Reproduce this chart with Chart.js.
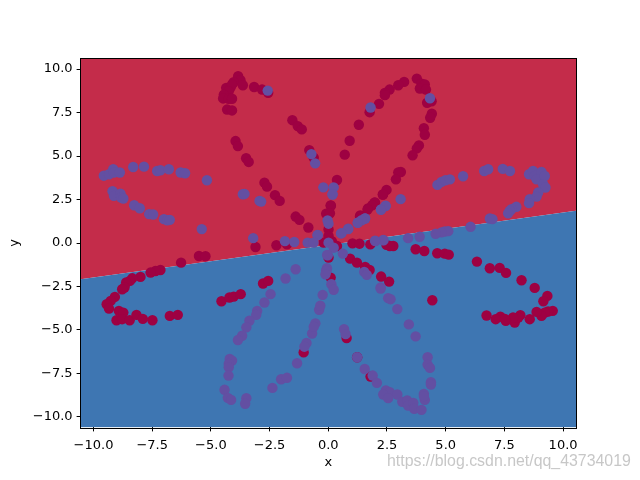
<!DOCTYPE html>
<html><head><meta charset="utf-8">
<script src="https://cdn.jsdelivr.net/npm/chart.js@4"></script>
<style>
html,body{margin:0;padding:0;background:#fff;overflow:hidden}
#wrap{position:relative;width:640px;height:480px}
#wm{position:absolute;left:387px;top:452px;font:15.9px "Liberation Sans",Arial,sans-serif;color:rgba(185,185,185,.8);white-space:nowrap}
</style></head><body>
<div id="wrap"><canvas id="c" width="640" height="480"></canvas><div id="wm">https://blog.csdn.net/qq_43734019</div></div>
<script>
const tickValues=[-10,-7.5,-5,-2.5,0,2.5,5,7.5,10];
const boundaryX=[-10.55,10.55];
const boundaryY=[-2.08,1.85];
const redX=[-3.84,-3.74,-4.03,-3.64,-4.35,-4.17,-4.10,-4.24,-4.45,-4.48,-4.24,-4.10,-4.31,-4.10,-3.16,-2.82,-2.56,-1.53,-1.30,-1.13,-3.95,-3.85,-3.50,-3.39,-2.72,-2.61,-2.27,-2.07,-1.39,-1.23,-0.85,-0.81,-0.62,
-2.21,0.10,-0.09,0.01,0.01,-0.20,0.15,0.37,0.01,1.03,1.33,1.79,0.93,1.22,1.57,2.25,2.59,0.10,1.36,1.69,1.96,2.32,
3.77,3.97,4.11,3.90,4.16,4.21,4.40,4.41,4.34,4.07,4.11,3.86,3.77,3.59,3.09,2.98,2.88,2.48,2.33,1.99,1.87,1.67,1.35,3.23,2.98,2.61,2.41,2.41,2.16,1.76,1.30,0.91,0.70,0.37,0.11,0.07,
-3.10,-1.76,-5.51,-5.23,-6.27,-7.15,-7.36,-7.57,-8.00,-8.35,-8.45,-8.61,-8.68,-8.78,-9.09,-9.27,-9.44,-9.34,-8.92,-8.73,-9.02,-8.78,-8.46,-8.17,-7.90,-7.49,-6.75,-6.41,-4.55,-4.21,-4.03,-3.73,-2.78,-2.56,-1.05,
2.48,2.77,2.62,3.72,4.09,4.64,4.96,5.13,6.33,6.88,7.30,7.57,8.23,8.79,9.33,9.16,9.56,9.36,9.22,9.08,8.87,8.58,8.18,7.94,8.09,7.87,7.56,7.33,7.13,6.74,7.52,4.43,1.76,0.78,1.80,1.23];
const redY=[9.59,9.36,9.24,9.07,8.92,8.92,9.11,8.73,8.53,8.31,8.29,8.29,7.67,7.62,8.97,8.82,8.63,7.06,6.72,6.53,5.86,5.57,4.87,4.66,3.47,3.24,2.75,2.42,1.52,1.33,0.89,5.34,4.90,
-0.13,2.16,1.68,0.78,0.40,0.02,0.11,-0.17,-0.84,-0.02,-0.04,-0.08,-0.90,-1.13,-1.38,-1.93,-2.22,-1.99,1.59,1.99,2.31,2.79,
9.45,9.16,9.11,8.88,8.82,8.06,8.15,7.43,7.20,6.60,6.22,5.61,5.44,5.04,4.08,4.05,3.66,3.05,2.78,2.33,2.17,1.92,1.52,9.26,9.07,8.82,8.63,8.50,8.00,7.52,6.80,5.88,5.08,3.62,2.14,1.71,
-0.23,-0.08,-0.75,-0.76,-1.13,-1.55,-1.61,-1.70,-1.95,-2.03,-2.18,-2.27,-2.56,-2.66,-3.10,-3.33,-3.52,-3.77,-3.90,-4.00,-4.44,-4.38,-4.44,-4.13,-4.36,-4.44,-4.19,-4.13,-3.35,-3.13,-3.08,-2.94,-2.33,-2.18,-6.29,
-0.11,-0.17,-0.17,-0.36,-0.46,-0.59,-0.61,-0.67,-1.07,-1.45,-1.43,-1.72,-2.14,-2.58,-3.04,-3.35,-3.90,-3.94,-4.00,-4.19,-3.96,-4.38,-4.15,-4.57,-4.28,-4.28,-4.47,-4.23,-4.38,-4.17,-4.37,-3.29,-1.55,-5.46,-7.68,-6.57];
const blueX=[-9.56,-9.34,-9.16,-9.13,-8.88,-8.31,-7.85,-7.29,-7.15,-6.79,-6.29,-6.10,-5.17,-9.19,-9.13,-8.85,-8.82,-8.73,-8.27,-8.03,-7.63,-7.46,-7.00,-6.86,-6.75,-5.39,-2.58,-0.72,-0.56,-0.21,-3.64,-3.57,-2.93,-2.86,-3.20,-0.45,
0.18,-0.03,0.01,-0.46,-1.85,-1.45,-0.88,-0.63,0.01,0.23,-0.02,0.62,0.54,0.85,1.26,1.57,2.25,2.44,2.01,2.35,-0.06,-0.09,-1.39,-1.82,1.53,1.64,0.13,2.23,0.23,
1.80,4.33,4.65,4.82,4.99,5.18,5.74,6.64,6.81,7.43,7.74,8.55,8.72,8.79,9.08,8.87,9.22,9.15,9.25,8.94,8.87,8.58,8.55,8.01,7.80,7.73,7.66,6.88,6.99,6.06,4.96,5.11,4.82,4.57,3.89,3.40,2.34,1.99,3.08,2.44,2.24,1.56,1.42,1.25,0.85,0.57,0.23,0.18,
-2.46,-2.72,-3.03,-3.07,-3.36,-3.49,-3.67,-3.85,-4.20,-4.10,-4.24,-4.24,-4.25,-4.42,-4.28,-4.14,-3.49,-3.54,-2.38,-2.01,-1.76,-1.33,-0.93,-1.02,-0.69,-0.55,-0.62,-0.39,-0.34,-0.24,-0.05,-0.08,-0.12,
2.23,2.55,2.65,2.94,3.43,3.72,4.23,4.23,4.33,4.37,4.37,4.07,4.11,0.67,0.74,1.23,1.55,1.89,2.07,2.45,2.62,2.94,2.34,2.55,3.15,3.36,3.40,3.62,3.66,3.97,4.07];
const blueY=[3.87,3.95,4.24,4.05,4.05,4.37,4.39,4.14,4.18,4.24,4.05,4.01,3.61,2.98,2.71,2.84,2.61,2.56,2.17,2.00,1.66,1.64,1.37,1.31,1.33,0.80,8.76,5.11,4.58,3.20,2.80,2.82,2.42,2.38,0.28,0.45,
2.79,1.30,1.11,0.46,0.11,0.06,0.02,0.02,0.02,-0.27,-0.71,-0.61,0.55,0.82,1.17,1.41,1.93,2.12,0.11,0.15,-1.45,-1.60,-1.51,-2.04,-1.66,-1.83,-2.37,-2.56,-2.69,
7.79,8.32,3.34,3.51,3.61,3.66,3.84,4.14,4.24,4.26,4.14,3.95,4.14,3.85,4.08,3.66,3.85,3.38,3.19,2.90,2.67,2.52,2.29,2.08,1.94,1.85,1.71,1.41,1.37,0.93,0.66,0.68,0.61,0.53,0.36,0.28,0.17,0.13,2.52,2.14,1.91,1.41,1.31,1.16,0.80,0.57,3.20,2.80,
-2.94,-3.42,-3.90,-4.13,-4.47,-4.85,-5.33,-5.58,-6.67,-6.76,-6.95,-7.14,-7.62,-8.44,-8.90,-9.02,-8.92,-9.24,-8.33,-7.83,-7.75,-6.91,-5.75,-5.96,-5.20,-4.62,-4.81,-3.84,-3.61,-2.98,-0.69,-1.61,-1.80,
-2.62,-3.17,-3.23,-3.80,-4.68,-5.37,-6.57,-6.99,-7.18,-8.00,-8.14,-8.67,-9.02,-4.95,-5.24,-6.57,-7.24,-7.62,-8.04,-8.48,-8.58,-8.71,-8.71,-8.92,-9.13,-9.05,-9.34,-9.19,-9.53,-9.59,-8.80];
const pts=(xs,ys)=>xs.map((x,i)=>({x,y:ys[i]}));
const boundary=pts(boundaryX,boundaryY);
const font={family:'"DejaVu Sans"',size:13};
const frame={id:'frame',afterDraw(ch){const a=ch.chartArea,g=ch.ctx;g.save();g.strokeStyle='#000';g.lineWidth=1;g.strokeRect(Math.round(a.left)-.5,Math.round(a.top)-.5,Math.round(a.right-a.left)+1,Math.round(a.bottom-a.top)+1);g.restore();}};
const fmt=v=>(v<0?'\u2212':'')+Math.abs(v).toFixed(1);
const axis=(title,lim,fit,tickPad,titlePad)=>({type:'linear',min:-lim,max:lim,
  afterBuildTicks(s){s.ticks=tickValues.map(value=>({value}));},
  afterFit:fit,
  grid:{display:true,drawOnChartArea:false,drawTicks:true,tickLength:4,color:'#000',lineWidth:1},
  border:{display:false},
  ticks:{color:'#000',font,padding:tickPad,maxRotation:0,autoSkip:false,callback:fmt},
  title:{display:true,text:title,color:'#000',font,padding:titlePad}});
new Chart(document.getElementById('c'),{type:'scatter',
 data:{datasets:[
  {data:boundary,showLine:true,pointRadius:0,borderWidth:0,fill:'end',backgroundColor:'#C42C4A',order:5},
  {data:boundary,showLine:true,pointRadius:0,borderWidth:0,fill:'start',backgroundColor:'#3E76B2',order:4},
  {data:pts(redX,redY),pointRadius:5.2,pointBorderWidth:0,pointBackgroundColor:'#9E0142',order:2},
  {data:pts(blueX,blueY),pointRadius:5.2,pointBorderWidth:0,pointBackgroundColor:'#634FA2',order:1}
 ]},
 plugins:[frame],
 options:{responsive:false,animation:false,
  layout:{padding:{top:58.6,right:64,left:0,bottom:0}},
  plugins:{legend:{display:false},tooltip:{enabled:false}},
  scales:{x:axis('x',10.55,s=>{s.height=52.6;},6,{top:2,bottom:10}),y:axis('y',10.6,s=>{s.width=80.6;},4,{top:7,bottom:6})}}
});
</script></body></html>
